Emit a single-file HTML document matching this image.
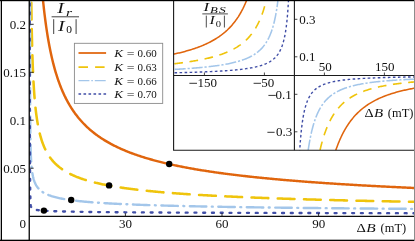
<!DOCTYPE html><html><head><meta charset="utf-8"><style>html,body{margin:0;padding:0;background:#fff}svg{display:block}text{font-family:"Liberation Serif",serif;fill:#111}svg{will-change:transform}</style></head><body>
<svg width="415" height="241" viewBox="0 0 415 241">
<defs><clipPath id="cm"><rect x="29.25" y="0" width="400" height="216.40"/></clipPath><clipPath id="ci"><rect x="173.5" y="0" width="241.5" height="150.2"/></clipPath></defs>
<rect width="415" height="241" fill="#fff"/>
<g clip-path="url(#cm)" fill="none" stroke-linejoin="round">
<path d="M42.89 -0.95 L42.99 0.08 L43.09 1.10 L43.20 2.12 L43.30 3.12 L43.41 4.12 L43.52 5.12 L43.63 6.17 L43.74 7.21 L43.86 8.25 L43.98 9.28 L44.09 10.30 L44.21 11.32 L44.33 12.33 L44.45 13.33 L44.57 14.33 L44.70 15.37 L44.82 16.42 L44.95 17.45 L45.09 18.47 L45.22 19.49 L45.35 20.51 L45.48 21.51 L45.62 22.51 L45.75 23.50 L45.90 24.54 L46.04 25.57 L46.19 26.60 L46.33 27.62 L46.48 28.63 L46.63 29.63 L46.78 30.62 L46.93 31.61 L47.09 32.65 L47.25 33.67 L47.42 34.69 L47.58 35.70 L47.74 36.70 L47.91 37.70 L48.08 38.69 L48.26 39.72 L48.43 40.74 L48.61 41.75 L48.80 42.76 L48.98 43.76 L49.16 44.75 L49.35 45.73 L49.54 46.75 L49.74 47.77 L49.94 48.77 L50.14 49.77 L50.34 50.76 L50.55 51.74 L50.76 52.76 L50.98 53.77 L51.20 54.77 L51.42 55.77 L51.64 56.75 L51.86 57.73 L52.10 58.74 L52.34 59.74 L52.58 60.74 L52.82 61.72 L53.06 62.70 L53.31 63.67 L53.57 64.67 L53.83 65.67 L54.09 66.65 L54.36 67.63 L54.62 68.59 L54.90 69.59 L55.19 70.58 L55.47 71.56 L55.76 72.53 L56.05 73.49 L56.36 74.48 L56.66 75.46 L56.97 76.43 L57.29 77.39 L57.60 78.34 L57.93 79.32 L58.27 80.30 L58.61 81.26 L58.95 82.21 L59.29 83.15 L59.65 84.12 L60.01 85.08 L60.38 86.03 L60.75 86.97 L61.12 87.90 L61.51 88.85 L61.91 89.80 L62.31 90.73 L62.71 91.66 L63.11 92.58 L63.54 93.52 L63.97 94.44 L64.40 95.36 L64.83 96.27 L65.28 97.17 L65.74 98.10 L66.20 99.01 L66.67 99.91 L67.14 100.80 L67.62 101.68 L68.12 102.59 L68.63 103.48 L69.14 104.36 L69.65 105.24 L70.17 106.10 L70.70 106.96 L71.23 107.80 L71.78 108.67 L72.34 109.52 L72.91 110.37 L73.48 111.20 L74.06 112.03 L74.64 112.85 L75.23 113.66 L75.85 114.49 L76.47 115.31 L77.09 116.11 L77.73 116.91 L78.37 117.70 L79.01 118.49 L79.67 119.26 L80.33 120.03 L81.00 120.79 L81.67 121.54 L82.35 122.28 L83.04 123.01 L83.74 123.74 L84.44 124.46 L85.15 125.17 L85.87 125.88 L86.60 126.58 L87.33 127.27 L88.07 127.95 L88.82 128.63 L89.58 129.30 L90.34 129.96 L91.11 130.62 L91.89 131.27 L92.68 131.91 L93.47 132.55 L94.28 133.18 L95.09 133.80 L95.91 134.42 L96.74 135.03 L97.55 135.62 L98.37 136.20 L99.20 136.78 L100.03 137.35 L100.88 137.91 L101.73 138.48 L102.59 139.03 L103.46 139.58 L104.31 140.11 L105.17 140.63 L106.04 141.15 L106.91 141.67 L107.79 142.18 L108.68 142.68 L109.58 143.18 L110.46 143.67 L111.35 144.14 L112.24 144.61 L113.15 145.08 L114.06 145.55 L114.98 146.01 L115.87 146.45 L116.78 146.89 L117.69 147.33 L118.61 147.76 L119.54 148.19 L120.48 148.61 L121.42 149.03 L122.34 149.43 L123.27 149.84 L124.20 150.23 L125.15 150.63 L126.10 151.02 L127.05 151.41 L127.99 151.78 L128.93 152.15 L129.88 152.52 L130.83 152.88 L131.79 153.24 L132.76 153.60 L133.71 153.94 L134.66 154.28 L135.61 154.62 L136.58 154.96 L137.55 155.29 L138.53 155.62 L139.48 155.94 L140.43 156.25 L141.39 156.57 L142.36 156.88 L143.34 157.19 L144.32 157.49 L145.31 157.80 L146.27 158.09 L147.24 158.38 L148.21 158.66 L149.19 158.95 L150.18 159.23 L151.17 159.51 L152.17 159.79 L153.13 160.06 L154.11 160.33 L155.08 160.59 L156.07 160.85 L157.06 161.11 L158.06 161.37 L159.06 161.63 L160.07 161.89 L161.05 162.13 L162.03 162.37 L163.01 162.61 L164.01 162.85 L165.00 163.09 L166.01 163.33 L167.02 163.56 L168.04 163.80 L169.02 164.02 L170.00 164.24 L170.99 164.46 L171.99 164.68 L172.99 164.90 L174.00 165.12 L175.01 165.33 L176.03 165.55 L177.01 165.75 L178.00 165.95 L178.99 166.16 L179.98 166.36 L180.98 166.56 L181.99 166.76 L183.00 166.95 L184.02 167.15 L185.04 167.35 L186.07 167.54 L187.06 167.72 L188.05 167.91 L189.05 168.09 L190.05 168.27 L191.05 168.45 L192.07 168.63 L193.08 168.81 L194.10 168.99 L195.13 169.17 L196.16 169.35 L197.15 169.51 L198.14 169.68 L199.14 169.84 L200.14 170.01 L201.15 170.17 L202.16 170.34 L203.18 170.50 L204.20 170.66 L205.22 170.82 L206.25 170.98 L207.29 171.14 L208.33 171.30 L209.32 171.45 L210.32 171.60 L211.32 171.75 L212.32 171.90 L213.33 172.05 L214.35 172.19 L215.37 172.34 L216.39 172.48 L217.42 172.63 L218.45 172.77 L219.49 172.92 L220.53 173.06 L221.52 173.20 L222.52 173.33 L223.52 173.46 L224.52 173.60 L225.53 173.73 L226.54 173.86 L227.56 173.99 L228.58 174.12 L229.60 174.26 L230.63 174.39 L231.67 174.51 L232.70 174.64 L233.75 174.77 L234.79 174.90 L235.84 175.03 L236.84 175.15 L237.84 175.27 L238.84 175.39 L239.85 175.50 L240.86 175.62 L241.87 175.74 L242.89 175.86 L243.92 175.97 L244.94 176.09 L245.97 176.21 L247.01 176.32 L248.05 176.44 L249.09 176.55 L250.14 176.66 L251.19 176.78 L252.24 176.89 L253.24 177.00 L254.24 177.10 L255.24 177.21 L256.25 177.31 L257.26 177.42 L258.27 177.52 L259.29 177.63 L260.31 177.73 L261.34 177.83 L262.37 177.94 L263.40 178.04 L264.43 178.14 L265.47 178.24 L266.52 178.34 L267.56 178.44 L268.62 178.54 L269.67 178.64 L270.73 178.74 L271.79 178.84 L272.79 178.94 L273.79 179.03 L274.80 179.12 L275.81 179.21 L276.82 179.31 L277.83 179.40 L278.85 179.49 L279.87 179.58 L280.90 179.67 L281.93 179.76 L282.96 179.85 L284.00 179.94 L285.04 180.03 L286.08 180.12 L287.12 180.21 L288.17 180.30 L289.23 180.38 L290.28 180.47 L291.34 180.56 L292.41 180.65 L293.47 180.73 L294.47 180.82 L295.47 180.90 L296.48 180.98 L297.48 181.06 L298.50 181.14 L299.51 181.22 L300.53 181.30 L301.55 181.38 L302.57 181.45 L303.59 181.53 L304.62 181.61 L305.66 181.69 L306.69 181.77 L307.73 181.85 L308.77 181.92 L309.82 182.00 L310.86 182.08 L311.91 182.16 L312.97 182.23 L314.02 182.31 L315.09 182.39 L316.15 182.46 L317.22 182.54 L318.29 182.61 L319.36 182.69 L320.36 182.76 L321.36 182.83 L322.36 182.90 L323.37 182.97 L324.38 183.04 L325.39 183.10 L326.41 183.17 L327.43 183.24 L328.45 183.31 L329.47 183.38 L330.50 183.45 L331.53 183.51 L332.56 183.58 L333.60 183.65 L334.64 183.72 L335.68 183.78 L336.72 183.85 L337.77 183.92 L338.82 183.98 L339.87 184.05 L340.93 184.12 L341.99 184.18 L343.05 184.25 L344.11 184.31 L345.18 184.38 L346.25 184.44 L347.32 184.51 L348.40 184.57 L349.48 184.64 L350.56 184.70 L351.56 184.76 L352.56 184.82 L353.57 184.88 L354.58 184.94 L355.59 185.00 L356.60 185.06 L357.62 185.12 L358.63 185.17 L359.66 185.23 L360.68 185.29 L361.70 185.35 L362.73 185.41 L363.76 185.46 L364.80 185.52 L365.83 185.58 L366.87 185.64 L367.91 185.69 L368.96 185.75 L370.01 185.81 L371.05 185.86 L372.11 185.92 L373.16 185.98 L374.22 186.03 L375.28 186.09 L376.34 186.14 L377.40 186.20 L378.47 186.26 L379.54 186.31 L380.61 186.37 L381.69 186.42 L382.77 186.48 L383.85 186.53 L384.93 186.59 L386.02 186.64 L387.11 186.70 L388.11 186.75 L389.11 186.80 L390.11 186.85 L391.12 186.89 L392.13 186.94 L393.14 186.99 L394.15 187.04 L395.17 187.09 L396.19 187.14 L397.21 187.19 L398.23 187.24 L399.25 187.29 L400.28 187.34 L401.31 187.38 L402.34 187.43 L403.38 187.48 L404.41 187.53 L405.45 187.58 L406.49 187.63 L407.54 187.67 L408.58 187.72 L409.63 187.77 L410.68 187.82 L411.73 187.86 L412.79 187.91 L413.84 187.96 L414.90 188.01 L415.97 188.05 L415.97 188.05" stroke="#E0650D" stroke-width="2.45"/>
<path d="M31.27 -0.96 L31.28 0.08 L31.30 1.12 L31.31 2.15 L31.32 3.18 L31.34 4.19 L31.35 5.20 L31.36 6.21 L31.38 7.28 L31.39 8.35 L31.41 9.40 L31.42 10.45 L31.44 11.50 L31.46 12.53 L31.47 13.56 L31.49 14.58 L31.50 15.59 L31.52 16.60 L31.54 17.67 L31.55 18.73 L31.57 19.78 L31.59 20.83 L31.61 21.86 L31.63 22.89 L31.64 23.91 L31.66 24.93 L31.68 25.93 L31.70 27.00 L31.72 28.06 L31.74 29.11 L31.76 30.15 L31.78 31.18 L31.80 32.20 L31.82 33.22 L31.85 34.23 L31.87 35.23 L31.89 36.28 L31.91 37.32 L31.94 38.36 L31.96 39.39 L31.99 40.41 L32.01 41.42 L32.03 42.42 L32.06 43.48 L32.09 44.52 L32.11 45.56 L32.14 46.58 L32.17 47.60 L32.20 48.61 L32.22 49.61 L32.25 50.66 L32.28 51.70 L32.31 52.72 L32.35 53.74 L32.38 54.75 L32.41 55.75 L32.44 56.80 L32.48 57.83 L32.51 58.86 L32.54 59.87 L32.58 60.88 L32.62 61.93 L32.65 62.97 L32.69 63.99 L32.73 65.01 L32.77 66.02 L32.81 67.06 L32.85 68.10 L32.89 69.12 L32.94 70.14 L32.98 71.14 L33.03 72.18 L33.07 73.21 L33.12 74.23 L33.17 75.24 L33.21 76.24 L33.26 77.27 L33.32 78.29 L33.37 79.30 L33.42 80.30 L33.47 81.33 L33.53 82.35 L33.59 83.36 L33.65 84.40 L33.71 85.43 L33.77 86.44 L33.83 87.44 L33.90 88.47 L33.96 89.49 L34.03 90.50 L34.10 91.53 L34.17 92.55 L34.25 93.56 L34.32 94.59 L34.40 95.62 L34.48 96.62 L34.56 97.65 L34.65 98.67 L34.73 99.68 L34.82 100.70 L34.91 101.72 L35.00 102.72 L35.10 103.74 L35.20 104.74 L35.30 105.77 L35.40 106.78 L35.51 107.78 L35.62 108.79 L35.73 109.80 L35.85 110.81 L35.97 111.82 L36.09 112.84 L36.22 113.84 L36.35 114.86 L36.49 115.86 L36.63 116.88 L36.77 117.88 L36.92 118.89 L37.07 119.89 L37.23 120.90 L37.39 121.90 L37.56 122.90 L37.73 123.89 L37.91 124.88 L38.10 125.89 L38.29 126.88 L38.49 127.88 L38.69 128.86 L38.90 129.85 L39.12 130.84 L39.35 131.82 L39.58 132.80 L39.82 133.78 L40.07 134.75 L40.33 135.73 L40.60 136.70 L40.88 137.68 L41.17 138.64 L41.47 139.61 L41.78 140.57 L42.10 141.54 L42.43 142.48 L42.77 143.43 L43.13 144.38 L43.50 145.32 L43.89 146.25 L44.28 147.18 L44.69 148.11 L45.12 149.01 L45.55 149.92 L46.01 150.82 L46.48 151.71 L46.96 152.59 L47.47 153.47 L47.99 154.34 L48.53 155.20 L49.08 156.04 L49.64 156.86 L50.23 157.69 L50.83 158.49 L51.44 159.29 L52.08 160.07 L52.74 160.85 L53.40 161.60 L54.09 162.34 L54.79 163.07 L55.51 163.79 L56.24 164.49 L56.98 165.17 L57.74 165.83 L58.51 166.48 L59.29 167.12 L60.08 167.74 L60.89 168.34 L61.71 168.93 L62.54 169.51 L63.38 170.07 L64.23 170.62 L65.09 171.15 L65.95 171.67 L66.82 172.17 L67.70 172.67 L68.59 173.15 L69.49 173.62 L70.39 174.07 L71.30 174.51 L72.21 174.94 L73.13 175.36 L74.05 175.77 L74.98 176.17 L75.91 176.56 L76.84 176.94 L77.78 177.30 L78.73 177.67 L79.68 178.02 L80.63 178.36 L81.58 178.70 L82.54 179.02 L83.50 179.34 L84.47 179.65 L85.42 179.95 L86.39 180.25 L87.35 180.54 L88.32 180.82 L89.29 181.10 L90.26 181.37 L91.23 181.63 L92.21 181.89 L93.18 182.15 L94.16 182.39 L95.14 182.64 L96.12 182.87 L97.11 183.11 L98.10 183.34 L99.09 183.56 L100.07 183.78 L101.07 184.00 L102.04 184.21 L103.03 184.42 L104.03 184.62 L105.02 184.82 L106.01 185.02 L107.02 185.21 L108.01 185.40 L109.01 185.58 L110.02 185.77 L111.01 185.95 L112.01 186.12 L113.02 186.30 L114.02 186.47 L115.02 186.64 L116.03 186.80 L117.03 186.96 L118.03 187.12 L119.04 187.28 L120.03 187.43 L121.03 187.58 L122.04 187.73 L123.05 187.88 L124.05 188.02 L125.05 188.17 L126.06 188.31 L127.08 188.45 L128.08 188.58 L129.09 188.72 L130.10 188.85 L131.12 188.98 L132.12 189.11 L133.12 189.23 L134.13 189.36 L135.15 189.48 L136.15 189.60 L137.15 189.72 L138.16 189.84 L139.17 189.96 L140.20 190.07 L141.19 190.19 L142.20 190.30 L143.21 190.41 L144.22 190.52 L145.25 190.63 L146.24 190.73 L147.25 190.84 L148.25 190.94 L149.27 191.04 L150.29 191.14 L151.32 191.25 L152.32 191.34 L153.33 191.44 L154.34 191.54 L155.36 191.63 L156.38 191.73 L157.41 191.82 L158.41 191.91 L159.41 192.00 L160.42 192.09 L161.44 192.18 L162.47 192.27 L163.49 192.36 L164.53 192.45 L165.53 192.53 L166.54 192.62 L167.55 192.70 L168.57 192.78 L169.59 192.86 L170.62 192.94 L171.66 193.03 L172.66 193.10 L173.67 193.18 L174.68 193.26 L175.69 193.33 L176.71 193.41 L177.74 193.49 L178.77 193.56 L179.81 193.64 L180.81 193.71 L181.82 193.78 L182.83 193.85 L183.84 193.92 L184.86 193.99 L185.89 194.06 L186.92 194.13 L187.96 194.20 L189.00 194.27 L190.00 194.34 L191.01 194.40 L192.02 194.47 L193.03 194.53 L194.05 194.60 L195.08 194.66 L196.11 194.72 L197.15 194.79 L198.19 194.85 L199.23 194.91 L200.24 194.97 L201.24 195.03 L202.25 195.09 L203.27 195.15 L204.29 195.21 L205.31 195.27 L206.34 195.33 L207.38 195.39 L208.42 195.45 L209.46 195.50 L210.51 195.56 L211.51 195.62 L212.52 195.67 L213.53 195.72 L214.54 195.78 L215.56 195.83 L216.59 195.89 L217.62 195.94 L218.65 195.99 L219.69 196.04 L220.73 196.10 L221.78 196.15 L222.83 196.20 L223.83 196.25 L224.83 196.30 L225.84 196.35 L226.85 196.40 L227.87 196.45 L228.89 196.50 L229.91 196.54 L230.94 196.59 L231.98 196.64 L233.01 196.69 L234.06 196.74 L235.10 196.78 L236.15 196.83 L237.21 196.88 L238.21 196.92 L239.21 196.97 L240.22 197.01 L241.23 197.06 L242.25 197.10 L243.27 197.14 L244.29 197.19 L245.32 197.23 L246.35 197.27 L247.39 197.32 L248.43 197.36 L249.47 197.40 L250.52 197.45 L251.57 197.49 L252.62 197.53 L253.68 197.57 L254.68 197.61 L255.69 197.65 L256.70 197.69 L257.71 197.73 L258.72 197.77 L259.74 197.81 L260.76 197.85 L261.79 197.89 L262.82 197.93 L263.85 197.97 L264.89 198.00 L265.93 198.04 L266.98 198.08 L268.02 198.12 L269.07 198.16 L270.13 198.20 L271.19 198.23 L272.25 198.27 L273.25 198.31 L274.26 198.34 L275.26 198.38 L276.27 198.41 L277.28 198.45 L278.30 198.48 L279.32 198.52 L280.34 198.55 L281.37 198.59 L282.40 198.62 L283.43 198.66 L284.47 198.69 L285.51 198.72 L286.55 198.76 L287.60 198.79 L288.65 198.83 L289.70 198.86 L290.76 198.89 L291.82 198.93 L292.89 198.96 L293.95 198.99 L295.02 199.03 L296.03 199.06 L297.03 199.09 L298.04 199.12 L299.05 199.15 L300.07 199.18 L301.09 199.21 L302.11 199.24 L303.13 199.27 L304.16 199.30 L305.19 199.33 L306.22 199.36 L307.26 199.40 L308.30 199.43 L309.34 199.46 L310.39 199.49 L311.43 199.52 L312.49 199.54 L313.54 199.57 L314.60 199.60 L315.66 199.63 L316.73 199.66 L317.79 199.69 L318.86 199.72 L319.94 199.75 L320.94 199.78 L321.94 199.81 L322.95 199.83 L323.96 199.86 L324.97 199.89 L325.98 199.91 L327.00 199.94 L328.02 199.97 L329.04 199.99 L330.07 200.02 L331.09 200.05 L332.12 200.07 L333.16 200.10 L334.19 200.13 L335.23 200.15 L336.28 200.18 L337.32 200.20 L338.37 200.23 L339.42 200.26 L340.47 200.28 L341.53 200.31 L342.59 200.33 L343.65 200.36 L344.72 200.39 L345.79 200.41 L346.86 200.44 L347.93 200.46 L349.01 200.49 L350.09 200.51 L351.17 200.54 L352.17 200.56 L353.18 200.59 L354.18 200.61 L355.19 200.63 L356.20 200.66 L357.22 200.68 L358.24 200.70 L359.25 200.73 L360.28 200.75 L361.30 200.77 L362.33 200.79 L363.36 200.82 L364.39 200.84 L365.43 200.86 L366.46 200.89 L367.50 200.91 L368.55 200.93 L369.59 200.95 L370.64 200.98 L371.69 201.00 L372.74 201.02 L373.80 201.04 L374.85 201.07 L375.91 201.09 L376.98 201.11 L378.04 201.13 L379.11 201.15 L380.18 201.18 L381.26 201.20 L382.33 201.22 L383.41 201.24 L384.49 201.26 L385.58 201.29 L386.66 201.31 L387.75 201.33 L388.76 201.35 L389.76 201.37 L390.76 201.39 L391.77 201.41 L392.78 201.43 L393.79 201.45 L394.81 201.47 L395.83 201.49 L396.85 201.51 L397.87 201.53 L398.89 201.55 L399.92 201.57 L400.94 201.59 L401.97 201.61 L403.01 201.63 L404.04 201.65 L405.08 201.66 L406.12 201.68 L407.16 201.70 L408.21 201.72 L409.25 201.74 L410.30 201.76 L411.35 201.78 L412.41 201.80 L413.46 201.82 L414.52 201.84 L415.58 201.86 L415.97 201.86" stroke="#EFC40C" stroke-width="2.55" stroke-linecap="round" stroke-dasharray="16.75 9.50" stroke-dashoffset="22.5"/>
<path d="M30.02 -0.95 L30.02 0.10 L30.02 1.15 L30.02 2.19 L30.02 3.22 L30.02 4.25 L30.02 5.26 L30.02 6.27 L30.02 7.27 L30.02 8.39 L30.02 9.49 L30.03 10.59 L30.03 11.68 L30.03 12.76 L30.03 13.83 L30.03 14.89 L30.03 15.94 L30.03 16.99 L30.03 18.02 L30.03 19.05 L30.03 20.07 L30.03 21.08 L30.03 22.08 L30.03 23.19 L30.03 24.28 L30.03 25.36 L30.03 26.44 L30.03 27.50 L30.03 28.56 L30.03 29.61 L30.03 30.64 L30.03 31.67 L30.03 32.69 L30.04 33.70 L30.04 34.70 L30.04 35.79 L30.04 36.87 L30.04 37.94 L30.04 39.01 L30.04 40.06 L30.04 41.10 L30.04 42.13 L30.04 43.15 L30.04 44.16 L30.04 45.17 L30.04 46.25 L30.04 47.32 L30.05 48.38 L30.05 49.44 L30.05 50.48 L30.05 51.51 L30.05 52.53 L30.05 53.54 L30.05 54.54 L30.05 55.61 L30.05 56.68 L30.05 57.73 L30.05 58.77 L30.06 59.80 L30.06 60.82 L30.06 61.83 L30.06 62.90 L30.06 63.96 L30.06 65.01 L30.06 66.05 L30.06 67.08 L30.07 68.10 L30.07 69.11 L30.07 70.17 L30.07 71.23 L30.07 72.27 L30.07 73.30 L30.07 74.32 L30.08 75.33 L30.08 76.39 L30.08 77.44 L30.08 78.47 L30.08 79.50 L30.08 80.51 L30.09 81.51 L30.09 82.56 L30.09 83.60 L30.09 84.63 L30.09 85.64 L30.10 86.64 L30.10 87.69 L30.10 88.72 L30.10 89.74 L30.11 90.75 L30.11 91.80 L30.11 92.83 L30.11 93.85 L30.12 94.86 L30.12 95.91 L30.12 96.94 L30.13 97.96 L30.13 98.97 L30.13 100.01 L30.14 101.04 L30.14 102.05 L30.14 103.09 L30.15 104.12 L30.15 105.14 L30.15 106.14 L30.16 107.17 L30.16 108.19 L30.17 109.19 L30.17 110.22 L30.18 111.24 L30.18 112.28 L30.19 113.30 L30.19 114.31 L30.20 115.34 L30.20 116.36 L30.21 117.39 L30.22 118.41 L30.22 119.42 L30.23 120.44 L30.24 121.45 L30.25 122.47 L30.25 123.48 L30.26 124.51 L30.27 125.52 L30.28 126.54 L30.29 127.54 L30.30 128.56 L30.31 129.56 L30.32 130.57 L30.33 131.60 L30.34 132.60 L30.36 133.62 L30.37 134.64 L30.38 135.64 L30.40 136.65 L30.41 137.67 L30.43 138.70 L30.44 139.70 L30.46 140.70 L30.48 141.72 L30.50 142.73 L30.52 143.74 L30.54 144.76 L30.57 145.78 L30.59 146.79 L30.62 147.80 L30.64 148.82 L30.67 149.82 L30.70 150.83 L30.74 151.83 L30.77 152.84 L30.81 153.85 L30.85 154.85 L30.89 155.86 L30.93 156.86 L30.98 157.87 L31.03 158.88 L31.08 159.89 L31.14 160.89 L31.21 161.90 L31.27 162.91 L31.35 163.91 L31.42 164.91 L31.51 165.91 L31.60 166.92 L31.70 167.92 L31.80 168.93 L31.92 169.92 L32.04 170.92 L32.18 171.91 L32.33 172.90 L32.49 173.89 L32.67 174.88 L32.86 175.86 L33.07 176.85 L33.31 177.83 L33.56 178.80 L33.84 179.77 L34.15 180.73 L34.49 181.67 L34.86 182.60 L35.27 183.52 L35.71 184.42 L36.20 185.29 L36.72 186.15 L37.29 186.98 L37.89 187.77 L38.54 188.54 L39.23 189.27 L39.96 189.96 L40.71 190.62 L41.50 191.24 L42.32 191.83 L43.16 192.38 L44.03 192.89 L44.91 193.38 L45.80 193.83 L46.71 194.26 L47.63 194.67 L48.56 195.05 L49.50 195.40 L50.45 195.74 L51.40 196.07 L52.37 196.37 L53.33 196.66 L54.30 196.93 L55.27 197.19 L56.24 197.44 L57.22 197.68 L58.20 197.90 L59.17 198.12 L60.15 198.32 L61.15 198.52 L62.14 198.71 L63.13 198.90 L64.12 199.07 L65.11 199.24 L66.10 199.41 L67.10 199.56 L68.09 199.72 L69.09 199.86 L70.09 200.01 L71.09 200.14 L72.08 200.28 L73.07 200.40 L74.07 200.53 L75.07 200.65 L76.06 200.77 L77.06 200.88 L78.05 200.99 L79.06 201.10 L80.07 201.21 L81.08 201.31 L82.09 201.41 L83.09 201.51 L84.10 201.61 L85.11 201.70 L86.12 201.79 L87.11 201.88 L88.13 201.97 L89.13 202.05 L90.13 202.14 L91.14 202.22 L92.14 202.30 L93.16 202.37 L94.16 202.45 L95.18 202.53 L96.19 202.60 L97.21 202.67 L98.22 202.74 L99.24 202.81 L100.24 202.88 L101.26 202.94 L102.27 203.01 L103.29 203.07 L104.29 203.14 L105.30 203.20 L106.30 203.26 L107.31 203.32 L108.33 203.37 L109.33 203.43 L110.35 203.49 L111.37 203.54 L112.37 203.60 L113.39 203.65 L114.42 203.70 L115.42 203.76 L116.44 203.81 L117.47 203.86 L118.47 203.91 L119.49 203.96 L120.51 204.01 L121.52 204.05 L122.53 204.10 L123.55 204.15 L124.58 204.19 L125.59 204.24 L126.60 204.28 L127.63 204.32 L128.63 204.37 L129.64 204.41 L130.66 204.45 L131.68 204.49 L132.68 204.53 L133.69 204.57 L134.71 204.61 L135.73 204.65 L136.77 204.69 L137.77 204.73 L138.79 204.76 L139.81 204.80 L140.83 204.84 L141.84 204.87 L142.84 204.91 L143.86 204.95 L144.88 204.98 L145.91 205.02 L146.91 205.05 L147.92 205.08 L148.93 205.12 L149.95 205.15 L150.98 205.18 L152.01 205.21 L153.01 205.25 L154.02 205.28 L155.04 205.31 L156.06 205.34 L157.09 205.37 L158.13 205.40 L159.13 205.43 L160.14 205.46 L161.16 205.49 L162.18 205.52 L163.20 205.55 L164.24 205.58 L165.28 205.60 L166.28 205.63 L167.30 205.66 L168.31 205.69 L169.34 205.71 L170.36 205.74 L171.40 205.77 L172.44 205.79 L173.45 205.82 L174.45 205.85 L175.47 205.87 L176.49 205.90 L177.52 205.92 L178.55 205.95 L179.59 205.97 L180.63 206.00 L181.63 206.02 L182.64 206.04 L183.66 206.07 L184.68 206.09 L185.70 206.11 L186.73 206.14 L187.77 206.16 L188.81 206.18 L189.86 206.21 L190.86 206.23 L191.87 206.25 L192.89 206.27 L193.91 206.29 L194.93 206.32 L195.96 206.34 L197.00 206.36 L198.04 206.38 L199.08 206.40 L200.08 206.42 L201.09 206.44 L202.10 206.46 L203.11 206.48 L204.13 206.50 L205.16 206.52 L206.19 206.54 L207.22 206.56 L208.26 206.58 L209.30 206.60 L210.35 206.62 L211.35 206.64 L212.36 206.66 L213.37 206.68 L214.38 206.69 L215.40 206.71 L216.42 206.73 L217.45 206.75 L218.48 206.77 L219.52 206.79 L220.56 206.80 L221.61 206.82 L222.66 206.84 L223.71 206.86 L224.72 206.88 L225.73 206.89 L226.74 206.91 L227.75 206.93 L228.77 206.94 L229.80 206.96 L230.83 206.98 L231.86 206.99 L232.90 207.01 L233.94 207.03 L234.99 207.04 L236.04 207.06 L237.09 207.07 L238.15 207.09 L239.15 207.11 L240.16 207.12 L241.17 207.14 L242.19 207.15 L243.21 207.17 L244.23 207.18 L245.26 207.20 L246.29 207.21 L247.33 207.23 L248.36 207.24 L249.41 207.26 L250.45 207.27 L251.51 207.29 L252.56 207.30 L253.62 207.32 L254.62 207.33 L255.62 207.35 L256.63 207.36 L257.64 207.37 L258.66 207.39 L259.68 207.40 L260.70 207.41 L261.73 207.43 L262.75 207.44 L263.79 207.46 L264.82 207.47 L265.86 207.48 L266.91 207.50 L267.96 207.51 L269.01 207.52 L270.06 207.54 L271.12 207.55 L272.19 207.56 L273.25 207.58 L274.25 207.59 L275.26 207.60 L276.27 207.61 L277.28 207.63 L278.30 207.64 L279.32 207.65 L280.34 207.66 L281.37 207.68 L282.40 207.69 L283.43 207.70 L284.47 207.71 L285.51 207.73 L286.55 207.74 L287.60 207.75 L288.65 207.76 L289.70 207.77 L290.76 207.79 L291.82 207.80 L292.89 207.81 L293.95 207.82 L295.02 207.83 L296.03 207.84 L297.03 207.86 L298.04 207.87 L299.05 207.88 L300.07 207.89 L301.09 207.90 L302.11 207.91 L303.13 207.92 L304.16 207.93 L305.19 207.94 L306.22 207.95 L307.26 207.97 L308.30 207.98 L309.34 207.99 L310.38 208.00 L311.43 208.01 L312.49 208.02 L313.54 208.03 L314.60 208.04 L315.66 208.05 L316.72 208.06 L317.79 208.07 L318.86 208.08 L319.94 208.09 L320.94 208.10 L321.94 208.11 L322.95 208.12 L323.96 208.13 L324.97 208.14 L325.98 208.15 L327.00 208.16 L328.02 208.17 L329.04 208.18 L330.07 208.19 L331.09 208.20 L332.12 208.21 L333.16 208.22 L334.19 208.23 L335.23 208.24 L336.28 208.25 L337.32 208.26 L338.37 208.27 L339.42 208.28 L340.47 208.29 L341.53 208.30 L342.59 208.31 L343.65 208.32 L344.72 208.33 L345.79 208.34 L346.86 208.34 L347.93 208.35 L349.01 208.36 L350.09 208.37 L351.17 208.38 L352.17 208.39 L353.18 208.40 L354.18 208.41 L355.19 208.42 L356.20 208.42 L357.22 208.43 L358.24 208.44 L359.25 208.45 L360.28 208.46 L361.30 208.47 L362.33 208.48 L363.36 208.48 L364.39 208.49 L365.43 208.50 L366.46 208.51 L367.50 208.52 L368.54 208.53 L369.59 208.53 L370.64 208.54 L371.69 208.55 L372.74 208.56 L373.80 208.57 L374.85 208.58 L375.91 208.58 L376.98 208.59 L378.04 208.60 L379.11 208.61 L380.18 208.62 L381.26 208.63 L382.33 208.63 L383.41 208.64 L384.49 208.65 L385.58 208.66 L386.66 208.67 L387.75 208.67 L388.76 208.68 L389.76 208.69 L390.76 208.70 L391.77 208.70 L392.78 208.71 L393.79 208.72 L394.81 208.73 L395.83 208.73 L396.85 208.74 L397.87 208.75 L398.89 208.76 L399.92 208.76 L400.94 208.77 L401.97 208.78 L403.01 208.78 L404.04 208.79 L405.08 208.80 L406.12 208.81 L407.16 208.81 L408.21 208.82 L409.25 208.83 L410.30 208.84 L411.35 208.84 L412.41 208.85 L413.46 208.86 L414.52 208.86 L415.58 208.87 L415.97 208.87" stroke="#A3C6EA" stroke-width="2.4" stroke-linecap="round" stroke-dasharray="16.50 5.50 0.90 5.58" stroke-dashoffset="25.09"/>
<path d="M29.74 -0.73 L29.74 0.84 L29.74 2.40 L29.74 3.95 L29.74 5.48 L29.74 7.00 L29.74 8.51 L29.74 10.01 L29.74 11.49 L29.75 12.97 L29.75 14.43 L29.75 15.88 L29.75 17.32 L29.75 18.74 L29.75 20.16 L29.75 21.57 L29.75 22.96 L29.75 24.34 L29.76 25.72 L29.76 27.08 L29.76 28.43 L29.76 29.77 L29.76 31.10 L29.76 32.42 L29.76 33.73 L29.76 35.03 L29.77 36.31 L29.77 37.59 L29.77 38.86 L29.77 40.12 L29.77 41.37 L29.77 42.61 L29.77 43.84 L29.77 45.06 L29.77 46.27 L29.78 47.47 L29.78 48.66 L29.78 49.84 L29.78 51.01 L29.78 52.18 L29.78 53.33 L29.78 54.48 L29.78 55.61 L29.78 56.74 L29.79 57.86 L29.79 58.97 L29.79 60.07 L29.79 61.16 L29.79 62.25 L29.79 63.32 L29.79 64.39 L29.79 65.45 L29.80 66.50 L29.80 67.54 L29.80 68.58 L29.80 69.61 L29.80 70.62 L29.80 71.64 L29.80 72.64 L29.80 74.13 L29.81 75.60 L29.81 77.06 L29.81 78.50 L29.81 79.92 L29.81 81.32 L29.82 82.71 L29.82 84.09 L29.82 85.45 L29.82 86.79 L29.82 88.11 L29.82 89.42 L29.83 90.72 L29.83 92.00 L29.83 93.27 L29.83 94.52 L29.83 95.76 L29.84 96.98 L29.84 98.19 L29.84 99.39 L29.84 100.57 L29.84 101.74 L29.85 102.89 L29.85 104.03 L29.85 105.16 L29.85 106.28 L29.85 107.38 L29.85 108.47 L29.86 109.55 L29.86 110.61 L29.86 111.67 L29.86 112.71 L29.86 113.74 L29.87 114.76 L29.87 115.76 L29.87 117.09 L29.87 118.39 L29.88 119.67 L29.88 120.94 L29.88 122.18 L29.88 123.41 L29.89 124.62 L29.89 125.81 L29.89 126.98 L29.89 128.14 L29.90 129.27 L29.90 130.39 L29.90 131.50 L29.91 132.58 L29.91 133.65 L29.91 134.71 L29.91 135.75 L29.92 136.77 L29.92 137.78 L29.92 139.02 L29.93 140.23 L29.93 141.43 L29.93 142.60 L29.94 143.75 L29.94 144.88 L29.94 145.98 L29.95 147.07 L29.95 148.14 L29.95 149.19 L29.96 150.21 L29.96 151.22 L29.96 152.41 L29.97 153.57 L29.97 154.70 L29.98 155.81 L29.98 156.90 L29.99 157.96 L29.99 159.00 L30.00 160.01 L30.00 161.17 L30.01 162.30 L30.01 163.40 L30.02 164.47 L30.02 165.51 L30.03 166.53 L30.03 167.66 L30.04 168.76 L30.04 169.83 L30.05 170.87 L30.06 171.87 L30.06 172.97 L30.07 174.04 L30.08 175.07 L30.09 176.17 L30.09 177.24 L30.10 178.27 L30.11 179.36 L30.12 180.41 L30.13 181.41 L30.14 182.47 L30.15 183.48 L30.16 184.53 L30.17 185.53 L30.18 186.56 L30.20 187.61 L30.21 188.67 L30.22 189.67 L30.24 190.67 L30.26 191.68 L30.27 192.72 L30.29 193.74 L30.31 194.78 L30.34 195.81 L30.36 196.84 L30.39 197.85 L30.43 198.85 L30.46 199.86 L30.51 200.87 L30.56 201.88 L30.62 202.89 L30.69 203.89 L30.79 204.89 L30.93 205.89 L31.15 206.87 L31.51 207.80 L32.16 208.56 L33.03 209.06 L33.98 209.39 L34.95 209.63 L35.94 209.82 L36.93 209.98 L37.92 210.12 L38.91 210.24 L39.91 210.35 L40.91 210.44 L41.90 210.53 L42.90 210.61 L43.90 210.68 L44.90 210.75 L45.91 210.81 L46.91 210.87 L47.92 210.92 L48.92 210.97 L49.93 211.02 L50.93 211.06 L51.93 211.11 L52.94 211.15 L53.94 211.19 L54.95 211.22 L55.95 211.26 L56.96 211.29 L57.97 211.32 L58.97 211.35 L59.99 211.38 L61.00 211.41 L62.01 211.44 L63.02 211.47 L64.02 211.49 L65.02 211.52 L66.03 211.54 L67.03 211.57 L68.04 211.59 L69.05 211.61 L70.05 211.63 L71.06 211.65 L72.07 211.67 L73.08 211.69 L74.09 211.71 L75.10 211.73 L76.11 211.75 L77.13 211.76 L78.14 211.78 L79.15 211.80 L80.15 211.82 L81.16 211.83 L82.18 211.85 L83.19 211.86 L84.20 211.88 L85.21 211.89 L86.23 211.91 L87.24 211.92 L88.24 211.93 L89.26 211.95 L90.27 211.96 L91.28 211.97 L92.29 211.99 L93.30 212.00 L94.32 212.01 L95.32 212.02 L96.34 212.04 L97.35 212.05 L98.37 212.06 L99.38 212.07 L100.40 212.08 L101.41 212.09 L102.43 212.10 L103.43 212.11 L104.44 212.12 L105.47 212.13 L106.48 212.14 L107.50 212.15 L108.50 212.16 L109.52 212.17 L110.54 212.18 L111.55 212.19 L112.56 212.20 L113.59 212.21 L114.60 212.22 L115.62 212.23 L116.64 212.24 L117.65 212.25 L118.67 212.25 L119.69 212.26 L120.70 212.27 L121.71 212.28 L122.73 212.29 L123.76 212.29 L124.77 212.30 L125.79 212.31 L126.82 212.32 L127.82 212.33 L128.83 212.33 L129.85 212.34 L130.87 212.35 L131.88 212.35 L132.89 212.36 L133.90 212.37 L134.93 212.38 L135.96 212.38 L136.97 212.39 L137.98 212.40 L139.00 212.40 L140.03 212.41 L141.04 212.42 L142.04 212.42 L143.06 212.43 L144.08 212.44 L145.11 212.44 L146.11 212.45 L147.12 212.45 L148.14 212.46 L149.16 212.47 L150.19 212.47 L151.22 212.48 L152.23 212.48 L153.24 212.49 L154.25 212.50 L155.28 212.50 L156.31 212.51 L157.34 212.51 L158.35 212.52 L159.36 212.52 L160.37 212.53 L161.40 212.53 L162.43 212.54 L163.46 212.54 L164.50 212.55 L165.51 212.55 L166.52 212.56 L167.54 212.56 L168.56 212.57 L169.59 212.58 L170.63 212.58 L171.67 212.59 L172.68 212.59 L173.69 212.59 L174.70 212.60 L175.72 212.60 L176.75 212.61 L177.79 212.61 L178.82 212.62 L179.87 212.62 L180.87 212.63 L181.88 212.63 L182.90 212.64 L183.92 212.64 L184.95 212.65 L185.98 212.65 L187.02 212.65 L188.06 212.66 L189.06 212.66 L190.06 212.67 L191.08 212.67 L192.09 212.68 L193.11 212.68 L194.14 212.68 L195.17 212.69 L196.20 212.69 L197.25 212.70 L198.29 212.70 L199.29 212.70 L200.30 212.71 L201.31 212.71 L202.33 212.72 L203.35 212.72 L204.37 212.72 L205.40 212.73 L206.44 212.73 L207.48 212.74 L208.52 212.74 L209.57 212.74 L210.57 212.75 L211.58 212.75 L212.59 212.75 L213.60 212.76 L214.62 212.76 L215.65 212.76 L216.68 212.77 L217.71 212.77 L218.75 212.78 L219.79 212.78 L220.84 212.78 L221.89 212.79 L222.89 212.79 L223.89 212.79 L224.90 212.80 L225.91 212.80 L226.93 212.80 L227.95 212.81 L228.98 212.81 L230.01 212.81 L231.04 212.82 L232.08 212.82 L233.12 212.82 L234.17 212.83 L235.22 212.83 L236.27 212.83 L237.27 212.84 L238.28 212.84 L239.29 212.84 L240.30 212.84 L241.31 212.85 L242.33 212.85 L243.36 212.85 L244.39 212.86 L245.42 212.86 L246.45 212.86 L247.49 212.87 L248.54 212.87 L249.58 212.87 L250.64 212.87 L251.69 212.88 L252.75 212.88 L253.75 212.88 L254.76 212.89 L255.76 212.89 L256.78 212.89 L257.79 212.89 L258.81 212.90 L259.83 212.90 L260.86 212.90 L261.89 212.91 L262.92 212.91 L263.96 212.91 L265.00 212.91 L266.05 212.92 L267.09 212.92 L268.15 212.92 L269.20 212.93 L270.26 212.93 L271.32 212.93 L272.32 212.93 L273.33 212.94 L274.34 212.94 L275.35 212.94 L276.36 212.94 L277.38 212.95 L278.40 212.95 L279.42 212.95 L280.45 212.95 L281.48 212.96 L282.51 212.96 L283.55 212.96 L284.59 212.96 L285.63 212.97 L286.68 212.97 L287.73 212.97 L288.78 212.97 L289.84 212.98 L290.90 212.98 L291.96 212.98 L293.03 212.98 L294.10 212.99 L295.11 212.99 L296.11 212.99 L297.12 212.99 L298.13 213.00 L299.15 213.00 L300.17 213.00 L301.19 213.00 L302.21 213.00 L303.24 213.01 L304.27 213.01 L305.30 213.01 L306.34 213.01 L307.38 213.02 L308.42 213.02 L309.47 213.02 L310.52 213.02 L311.57 213.03 L312.63 213.03 L313.68 213.03 L314.75 213.03 L315.81 213.03 L316.88 213.04 L317.95 213.04 L319.03 213.04 L320.03 213.04 L321.03 213.05 L322.04 213.05 L323.04 213.05 L324.06 213.05 L325.07 213.05 L326.09 213.06 L327.11 213.06 L328.13 213.06 L329.16 213.06 L330.18 213.06 L331.22 213.07 L332.25 213.07 L333.29 213.07 L334.33 213.07 L335.37 213.07 L336.41 213.08 L337.46 213.08 L338.51 213.08 L339.57 213.08 L340.63 213.08 L341.68 213.09 L342.75 213.09 L343.81 213.09 L344.88 213.09 L345.95 213.09 L347.03 213.10 L348.10 213.10 L349.18 213.10 L350.27 213.10 L351.27 213.10 L352.27 213.11 L353.28 213.11 L354.29 213.11 L355.30 213.11 L356.32 213.11 L357.34 213.11 L358.36 213.12 L359.38 213.12 L360.40 213.12 L361.43 213.12 L362.46 213.12 L363.49 213.13 L364.53 213.13 L365.57 213.13 L366.61 213.13 L367.65 213.13 L368.70 213.13 L369.74 213.14 L370.79 213.14 L371.85 213.14 L372.90 213.14 L373.96 213.14 L375.02 213.15 L376.09 213.15 L377.15 213.15 L378.22 213.15 L379.29 213.15 L380.37 213.15 L381.44 213.16 L382.52 213.16 L383.61 213.16 L384.69 213.16 L385.78 213.16 L386.87 213.17 L387.87 213.17 L388.87 213.17 L389.88 213.17 L390.89 213.17 L391.90 213.17 L392.91 213.18 L393.92 213.18 L394.94 213.18 L395.96 213.18 L396.98 213.18 L398.01 213.18 L399.03 213.18 L400.06 213.19 L401.09 213.19 L402.13 213.19 L403.16 213.19 L404.20 213.19 L405.24 213.19 L406.28 213.20 L407.33 213.20 L408.37 213.20 L409.42 213.20 L410.48 213.20 L411.53 213.20 L412.59 213.21 L413.64 213.21 L414.71 213.21 L415.77 213.21 L415.96 213.21" stroke="#404EA6" stroke-width="2.35" stroke-linecap="round" stroke-dasharray="1.95 6.81" stroke-dashoffset="4.42"/>
</g>
<g stroke="#0c0c0c" stroke-width="1.35" fill="none">
<path d="M29.25 0V241"/><path d="M29.25 216.4H415"/>
</g><g stroke="#1a1a1a" stroke-width="0.9" fill="none">
<path d="M125.4 216.4v-3.2"/>
<path d="M222.0 216.4v-3.2"/>
<path d="M318.6 216.4v-3.2"/>
<path d="M29.25 168.2h4.4"/>
<path d="M29.25 120.2h4.4"/>
<path d="M29.25 72.3h4.4"/>
<path d="M29.25 24.3h4.4"/>
</g>
<g font-size="13">
<text x="125.5" y="227.6" text-anchor="middle">30</text>
<text x="222.1" y="227.6" text-anchor="middle">60</text>
<text x="318.7" y="227.6" text-anchor="middle">90</text>
<text x="26" y="172.5" text-anchor="end">0.05</text>
<text x="26" y="124.5" text-anchor="end">0.1</text>
<text x="26" y="76.6" text-anchor="end">0.15</text>
<text x="26" y="28.6" text-anchor="end">0.2</text>
<text x="25.9" y="227.9" text-anchor="end">0</text>
</g>
<circle cx="169.2" cy="164.0" r="3.2" fill="#000"/>
<circle cx="109.1" cy="185.4" r="3.2" fill="#000"/>
<circle cx="71.2" cy="200.0" r="3.2" fill="#000"/>
<circle cx="43.9" cy="210.6" r="3.2" fill="#000"/>
<g>
<text transform="translate(57.2,13.3) scale(1.3,1)" font-size="15.2" font-style="italic">I</text><text transform="translate(66,15.9) scale(1.45,1)" font-size="10.8" font-style="italic">r</text>
<path d="M51.6 16.8H79" stroke="#111" stroke-width="0.8"/>
<path d="M53.7 19.2V34M76.1 19.2V34" stroke="#111" stroke-width="0.8"/>
<text transform="translate(57.9,30.7) scale(1.3,1)" font-size="15.2" font-style="italic">I</text><text transform="translate(66.2,33.2) scale(1.2,1)" font-size="9.6">0</text>
</g>
<text transform="translate(356.6,231.5) scale(1.16,1)" font-size="12.6">Δ</text><text transform="translate(366.20000000000005,231.5) scale(1.22,1)" font-size="12.6" font-style="italic">B</text><text x="380.6" y="231.5" font-size="12.6" textLength="25.6" lengthAdjust="spacingAndGlyphs">(mT)</text>
<rect x="74.4" y="43.3" width="88.3" height="60.1" fill="#fff" stroke="#8a8a8a" stroke-width="0.9"/>
<path d="M78.5 53H106.1" stroke="#E0650D" stroke-width="1.75" fill="none"/>
<text transform="translate(114.2,56.9) scale(1.18,1)" font-size="11" font-style="italic">K</text><text transform="translate(126.7,56.9) scale(1.25,1)" font-size="11">=</text><text x="137.6" y="56.9" font-size="11" textLength="19.2" lengthAdjust="spacingAndGlyphs">0.60</text>
<path d="M78.5 67H106.1" stroke="#EFC40C" stroke-width="1.75" fill="none" stroke-dasharray="9.5 7.1"/>
<text transform="translate(114.2,70.9) scale(1.18,1)" font-size="11" font-style="italic">K</text><text transform="translate(126.7,70.9) scale(1.25,1)" font-size="11">=</text><text x="137.6" y="70.9" font-size="11" textLength="19.2" lengthAdjust="spacingAndGlyphs">0.63</text>
<path d="M78.5 80.6H106.1" stroke="#A3C6EA" stroke-width="1.25" fill="none" stroke-dasharray="10.9 1.9 1.6 1.9"/>
<text transform="translate(114.2,84.5) scale(1.18,1)" font-size="11" font-style="italic">K</text><text transform="translate(126.7,84.5) scale(1.25,1)" font-size="11">=</text><text x="137.6" y="84.5" font-size="11" textLength="19.2" lengthAdjust="spacingAndGlyphs">0.66</text>
<path d="M78.5 94H106.1" stroke="#404EA6" stroke-width="1.5" fill="none" stroke-dasharray="2.6 2.4"/>
<text transform="translate(114.2,97.9) scale(1.18,1)" font-size="11" font-style="italic">K</text><text transform="translate(126.7,97.9) scale(1.25,1)" font-size="11">=</text><text x="137.6" y="97.9" font-size="11" textLength="19.2" lengthAdjust="spacingAndGlyphs">0.70</text>
<rect x="173.5" y="0" width="241.5" height="150.2" fill="#fff"/>
<g clip-path="url(#ci)" fill="none" stroke-linejoin="round">
<path d="M247.13 -0.98 L246.76 -0.03 L246.39 0.90 L246.00 1.84 L245.61 2.76 L245.21 3.70 L244.80 4.62 L244.38 5.55 L243.95 6.47 L243.52 7.37 L243.08 8.29 L242.62 9.18 L242.16 10.08 L241.69 10.97 L241.20 11.87 L240.71 12.75 L240.20 13.64 L239.68 14.51 L239.16 15.36 L238.62 16.22 L238.08 17.07 L237.51 17.92 L236.94 18.76 L236.37 19.58 L235.77 20.40 L235.17 21.21 L234.56 22.01 L233.93 22.81 L233.30 23.59 L232.66 24.36 L231.99 25.14 L231.32 25.90 L230.64 26.64 L229.95 27.37 L229.26 28.09 L228.54 28.81 L227.81 29.52 L227.08 30.22 L226.33 30.90 L225.58 31.57 L224.82 32.23 L224.05 32.87 L223.27 33.51 L222.49 34.13 L221.69 34.75 L220.88 35.35 L220.07 35.94 L219.24 36.52 L218.41 37.09 L217.57 37.65 L216.72 38.21 L215.85 38.75 L215.00 39.27 L214.14 39.78 L213.26 40.29 L212.38 40.78 L211.49 41.27 L210.61 41.74 L209.71 42.20 L208.81 42.66 L207.90 43.11 L206.98 43.55 L206.07 43.97 L205.15 44.39 L204.22 44.80 L203.30 45.20 L202.37 45.59 L201.43 45.97 L200.49 46.35 L199.55 46.71 L198.61 47.07 L197.65 47.42 L196.71 47.77 L195.76 48.10 L194.80 48.43 L193.84 48.76 L192.88 49.07 L191.92 49.38 L190.95 49.69 L189.99 49.98 L189.02 50.27 L188.05 50.56 L187.07 50.84 L186.10 51.11 L185.12 51.38 L184.14 51.65 L183.17 51.90 L182.20 52.16 L181.21 52.41 L180.22 52.65 L179.24 52.89 L178.26 53.12 L177.27 53.35 L176.27 53.58 L175.29 53.80 L174.30 54.02 L173.31 54.23 L173.02 54.29" stroke="#E0650D" stroke-width="1.55"/>
<path d="M335.53 150.99 L335.87 150.01 L336.21 149.04 L336.56 148.08 L336.90 147.14 L337.26 146.17 L337.62 145.22 L337.99 144.28 L338.37 143.32 L338.75 142.38 L339.14 141.45 L339.55 140.49 L339.95 139.56 L340.36 138.64 L340.79 137.70 L341.22 136.77 L341.65 135.86 L342.11 134.94 L342.56 134.03 L343.02 133.13 L343.50 132.22 L343.98 131.33 L344.46 130.45 L344.97 129.56 L345.48 128.69 L346.00 127.80 L346.54 126.93 L347.07 126.08 L347.63 125.21 L348.19 124.36 L348.76 123.53 L349.34 122.69 L349.94 121.87 L350.53 121.06 L351.15 120.24 L351.78 119.44 L352.41 118.66 L353.06 117.87 L353.72 117.10 L354.38 116.34 L355.07 115.58 L355.76 114.83 L356.46 114.10 L357.17 113.38 L357.90 112.66 L358.64 111.95 L359.38 111.26 L360.13 110.59 L360.89 109.93 L361.65 109.28 L362.44 108.63 L363.24 107.99 L364.04 107.37 L364.85 106.76 L365.67 106.16 L366.50 105.58 L367.33 105.00 L368.17 104.44 L369.01 103.90 L369.87 103.36 L370.73 102.83 L371.60 102.32 L372.47 101.82 L373.36 101.32 L374.25 100.84 L375.15 100.37 L376.06 99.91 L376.97 99.45 L377.89 99.01 L378.82 98.57 L379.73 98.16 L380.66 97.75 L381.58 97.35 L382.52 96.96 L383.46 96.58 L384.41 96.20 L385.37 95.84 L386.31 95.49 L387.26 95.14 L388.22 94.80 L389.18 94.47 L390.15 94.15 L391.11 93.84 L392.06 93.53 L393.03 93.23 L394.01 92.94 L394.99 92.65 L395.98 92.37 L396.94 92.10 L397.92 91.83 L398.90 91.57 L399.89 91.32 L400.89 91.07 L401.86 90.83 L402.84 90.59 L403.83 90.36 L404.83 90.13 L405.83 89.91 L406.81 89.69 L407.80 89.48 L408.79 89.28 L409.79 89.07 L410.80 88.87 L411.78 88.68 L412.77 88.50 L413.76 88.31 L414.76 88.13 L415.77 87.95 L415.99 87.91" stroke="#E0650D" stroke-width="1.55"/>
<path d="M266.56 -0.98 L266.33 0.00 L266.08 0.99 L265.84 1.97 L265.58 2.96 L265.32 3.94 L265.05 4.92 L264.78 5.89 L264.50 6.87 L264.21 7.83 L263.92 8.81 L263.62 9.76 L263.31 10.72 L262.99 11.69 L262.66 12.65 L262.32 13.60 L261.98 14.54 L261.63 15.49 L261.26 16.44 L260.89 17.37 L260.51 18.31 L260.11 19.24 L259.71 20.16 L259.30 21.08 L258.87 22.01 L258.43 22.91 L257.98 23.81 L257.52 24.72 L257.05 25.60 L256.56 26.48 L256.06 27.36 L255.55 28.23 L255.02 29.09 L254.47 29.95 L253.92 30.78 L253.35 31.62 L252.77 32.44 L252.17 33.25 L251.57 34.05 L250.94 34.84 L250.30 35.61 L249.65 36.38 L248.98 37.13 L248.30 37.88 L247.60 38.61 L246.89 39.32 L246.17 40.02 L245.43 40.71 L244.68 41.39 L243.91 42.05 L243.14 42.70 L242.35 43.33 L241.56 43.94 L240.75 44.55 L239.93 45.14 L239.09 45.71 L238.25 46.27 L237.40 46.82 L236.55 47.35 L235.68 47.86 L234.80 48.37 L233.93 48.86 L233.04 49.33 L232.14 49.80 L231.24 50.25 L230.33 50.69 L229.41 51.12 L228.50 51.54 L227.57 51.94 L226.65 52.33 L225.71 52.72 L224.78 53.09 L223.84 53.45 L222.89 53.80 L221.94 54.15 L220.98 54.48 L220.03 54.80 L219.07 55.12 L218.12 55.43 L217.15 55.73 L216.18 56.02 L215.21 56.31 L214.23 56.59 L213.26 56.86 L212.28 57.12 L211.31 57.38 L210.33 57.63 L209.34 57.87 L208.36 58.11 L207.37 58.34 L206.39 58.57 L205.41 58.79 L204.41 59.01 L203.42 59.22 L202.43 59.43 L201.44 59.63 L200.45 59.82 L199.45 60.02 L198.46 60.20 L197.47 60.39 L196.46 60.57 L195.47 60.74 L194.47 60.91 L193.46 61.08 L192.47 61.25 L191.47 61.41 L190.46 61.57 L189.46 61.72 L188.46 61.87 L187.45 62.02 L186.46 62.17 L185.46 62.31 L184.45 62.45 L183.45 62.58 L182.46 62.72 L181.45 62.85 L180.43 62.98 L179.44 63.10 L178.44 63.23 L177.43 63.35 L176.41 63.47 L175.41 63.58 L174.40 63.70 L173.39 63.81 L173.02 63.85" stroke="#EFC40C" stroke-width="1.6" stroke-dasharray="8.7 6.6" stroke-dashoffset="7.73"/>
<path d="M319.83 151.00 L320.06 150.01 L320.29 149.03 L320.53 148.02 L320.77 147.03 L321.01 146.06 L321.27 145.05 L321.52 144.07 L321.78 143.10 L322.05 142.11 L322.32 141.13 L322.61 140.14 L322.90 139.16 L323.19 138.20 L323.49 137.22 L323.79 136.25 L324.11 135.27 L324.43 134.31 L324.76 133.33 L325.10 132.37 L325.44 131.43 L325.79 130.47 L326.14 129.53 L326.51 128.59 L326.89 127.66 L327.28 126.72 L327.67 125.79 L328.07 124.86 L328.50 123.93 L328.92 123.01 L329.36 122.09 L329.81 121.18 L330.27 120.28 L330.74 119.39 L331.22 118.50 L331.73 117.60 L332.23 116.73 L332.76 115.85 L333.29 115.00 L333.84 114.15 L334.39 113.31 L334.96 112.48 L335.56 111.65 L336.16 110.84 L336.78 110.03 L337.41 109.24 L338.06 108.45 L338.71 107.69 L339.39 106.93 L340.07 106.18 L340.77 105.46 L341.48 104.74 L342.21 104.04 L342.96 103.35 L343.71 102.67 L344.48 102.02 L345.25 101.38 L346.04 100.75 L346.84 100.14 L347.66 99.54 L348.49 98.95 L349.33 98.38 L350.17 97.83 L351.03 97.29 L351.90 96.76 L352.77 96.25 L353.66 95.76 L354.55 95.27 L355.44 94.81 L356.34 94.36 L357.25 93.93 L358.16 93.50 L359.09 93.09 L360.03 92.68 L360.96 92.30 L361.89 91.92 L362.84 91.55 L363.78 91.20 L364.73 90.86 L365.68 90.53 L366.65 90.20 L367.60 89.89 L368.57 89.59 L369.54 89.29 L370.50 89.01 L371.48 88.73 L372.46 88.46 L373.42 88.21 L374.40 87.95 L375.39 87.71 L376.38 87.47 L377.36 87.24 L378.35 87.01 L379.35 86.79 L380.34 86.58 L381.33 86.37 L382.33 86.17 L383.31 85.98 L384.31 85.79 L385.31 85.60 L386.30 85.43 L387.29 85.25 L388.29 85.08 L389.30 84.92 L390.29 84.76 L391.29 84.60 L392.30 84.45 L393.29 84.30 L394.29 84.16 L395.29 84.01 L396.31 83.88 L397.30 83.74 L398.30 83.61 L399.31 83.49 L400.32 83.36 L401.31 83.24 L402.32 83.12 L403.32 83.01 L404.34 82.89 L405.36 82.78 L406.36 82.67 L407.37 82.57 L408.39 82.46 L409.41 82.36 L410.41 82.26 L411.41 82.17 L412.42 82.08 L413.44 81.98 L414.47 81.89 L415.47 81.80 L415.97 81.76" stroke="#EFC40C" stroke-width="1.6" stroke-dasharray="8.7 6.6" stroke-dashoffset="14.32"/>
<path d="M278.08 -0.99 L277.96 0.02 L277.84 1.02 L277.71 2.03 L277.58 3.02 L277.45 4.03 L277.31 5.05 L277.17 6.05 L277.02 7.06 L276.87 8.05 L276.72 9.06 L276.56 10.07 L276.39 11.06 L276.22 12.06 L276.05 13.07 L275.87 14.06 L275.69 15.05 L275.49 16.05 L275.30 17.05 L275.09 18.03 L274.88 19.02 L274.67 20.00 L274.44 20.99 L274.21 21.98 L273.97 22.96 L273.72 23.94 L273.46 24.92 L273.19 25.90 L272.91 26.87 L272.62 27.84 L272.32 28.80 L272.01 29.76 L271.69 30.71 L271.36 31.67 L271.01 32.62 L270.64 33.56 L270.27 34.49 L269.88 35.43 L269.47 36.36 L269.05 37.27 L268.61 38.17 L268.15 39.07 L267.68 39.96 L267.19 40.84 L266.68 41.70 L266.15 42.56 L265.60 43.40 L265.03 44.23 L264.44 45.05 L263.82 45.85 L263.19 46.63 L262.54 47.40 L261.87 48.15 L261.18 48.88 L260.47 49.58 L259.74 50.28 L258.99 50.95 L258.23 51.60 L257.45 52.23 L256.65 52.84 L255.83 53.43 L255.00 54.00 L254.16 54.55 L253.31 55.08 L252.44 55.59 L251.56 56.08 L250.68 56.55 L249.78 57.01 L248.87 57.45 L247.96 57.87 L247.04 58.28 L246.11 58.66 L245.18 59.04 L244.24 59.40 L243.29 59.75 L242.33 60.09 L241.38 60.41 L240.42 60.72 L239.46 61.02 L238.50 61.30 L237.54 61.58 L236.56 61.85 L235.58 62.11 L234.61 62.36 L233.63 62.60 L232.66 62.83 L231.67 63.06 L230.68 63.28 L229.70 63.49 L228.71 63.69 L227.72 63.89 L226.73 64.08 L225.74 64.26 L224.74 64.44 L223.75 64.62 L222.76 64.78 L221.76 64.95 L220.76 65.11 L219.77 65.26 L218.77 65.41 L217.78 65.56 L216.77 65.70 L215.78 65.84 L214.77 65.97 L213.77 66.10 L212.76 66.23 L211.76 66.35 L210.75 66.47 L209.74 66.59 L208.73 66.71 L207.73 66.82 L206.72 66.93 L205.72 67.03 L204.71 67.14 L203.71 67.24 L202.71 67.34 L201.69 67.43 L200.69 67.53 L199.67 67.62 L198.67 67.71 L197.66 67.80 L196.65 67.89 L195.64 67.97 L194.63 68.05 L193.61 68.13 L192.61 68.21 L191.59 68.29 L190.60 68.37 L189.59 68.44 L188.58 68.51 L187.55 68.58 L186.55 68.65 L185.54 68.72 L184.52 68.79 L183.51 68.86 L182.50 68.92 L181.48 68.98 L180.48 69.05 L179.48 69.11 L178.46 69.17 L177.44 69.23 L176.44 69.28 L175.43 69.34 L174.41 69.40 L173.39 69.45 L173.02 69.47" stroke="#A3C6EA" stroke-width="1.55" stroke-dasharray="11 1.9 2.2 1.9" stroke-dashoffset="2.86"/>
<path d="M308.09 150.96 L308.24 149.94 L308.38 148.93 L308.54 147.94 L308.69 146.93 L308.85 145.93 L309.02 144.90 L309.19 143.90 L309.36 142.91 L309.53 141.90 L309.71 140.90 L309.90 139.89 L310.09 138.89 L310.28 137.88 L310.48 136.89 L310.69 135.88 L310.90 134.89 L311.12 133.88 L311.34 132.90 L311.56 131.90 L311.80 130.92 L312.04 129.93 L312.29 128.94 L312.54 127.96 L312.80 126.97 L313.07 125.98 L313.35 125.01 L313.64 124.04 L313.93 123.06 L314.23 122.11 L314.55 121.15 L314.87 120.19 L315.20 119.23 L315.55 118.27 L315.91 117.31 L316.28 116.38 L316.65 115.45 L317.04 114.52 L317.45 113.60 L317.87 112.68 L318.30 111.77 L318.75 110.87 L319.21 109.97 L319.69 109.08 L320.18 108.21 L320.70 107.34 L321.22 106.48 L321.77 105.63 L322.34 104.80 L322.92 103.97 L323.52 103.16 L324.15 102.36 L324.79 101.58 L325.44 100.82 L326.12 100.07 L326.82 99.34 L327.52 98.63 L328.26 97.93 L329.00 97.26 L329.77 96.60 L330.55 95.97 L331.34 95.35 L332.15 94.76 L332.96 94.18 L333.80 93.63 L334.64 93.09 L335.50 92.57 L336.37 92.07 L337.26 91.59 L338.16 91.12 L339.06 90.68 L339.98 90.24 L340.89 89.83 L341.82 89.43 L342.74 89.06 L343.68 88.69 L344.62 88.34 L345.57 88.00 L346.52 87.67 L347.48 87.36 L348.44 87.06 L349.41 86.76 L350.38 86.49 L351.36 86.22 L352.34 85.96 L353.31 85.71 L354.29 85.47 L355.27 85.24 L356.26 85.01 L357.25 84.80 L358.24 84.59 L359.23 84.39 L360.23 84.20 L361.23 84.01 L362.21 83.83 L363.21 83.66 L364.19 83.49 L365.19 83.33 L366.18 83.17 L367.18 83.02 L368.19 82.87 L369.19 82.73 L370.19 82.59 L371.19 82.46 L372.20 82.33 L373.20 82.20 L374.20 82.08 L375.22 81.96 L376.22 81.85 L377.23 81.73 L378.23 81.63 L379.24 81.52 L380.26 81.42 L381.26 81.32 L382.27 81.22 L383.27 81.13 L384.27 81.04 L385.29 80.95 L386.28 80.86 L387.29 80.78 L388.30 80.69 L389.30 80.61 L390.31 80.54 L391.32 80.46 L392.35 80.38 L393.35 80.31 L394.36 80.24 L395.38 80.17 L396.38 80.10 L397.39 80.04 L398.41 79.97 L399.43 79.91 L400.44 79.85 L401.45 79.79 L402.47 79.73 L403.47 79.68 L404.48 79.62 L405.49 79.56 L406.51 79.51 L407.54 79.46 L408.54 79.41 L409.55 79.36 L410.57 79.31 L411.60 79.26 L412.60 79.21 L413.61 79.17 L414.63 79.12 L415.65 79.08 L415.99 79.06" stroke="#A3C6EA" stroke-width="1.55" stroke-dasharray="11 1.9 2.2 1.9" stroke-dashoffset="16.54"/>
<path d="M288.56 -1.00 L288.50 0.04 L288.45 1.05 L288.39 2.05 L288.33 3.07 L288.27 4.07 L288.21 5.08 L288.15 6.08 L288.08 7.10 L288.01 8.13 L287.94 9.14 L287.87 10.16 L287.80 11.17 L287.72 12.18 L287.64 13.21 L287.56 14.22 L287.47 15.23 L287.38 16.25 L287.29 17.25 L287.20 18.26 L287.10 19.27 L287.00 20.28 L286.89 21.30 L286.79 22.30 L286.68 23.29 L286.56 24.29 L286.44 25.29 L286.32 26.28 L286.18 27.27 L286.05 28.28 L285.90 29.29 L285.75 30.29 L285.60 31.28 L285.44 32.29 L285.27 33.28 L285.09 34.27 L284.90 35.26 L284.71 36.25 L284.50 37.24 L284.29 38.22 L284.06 39.21 L283.82 40.19 L283.56 41.17 L283.30 42.15 L283.02 43.11 L282.72 44.07 L282.41 45.02 L282.08 45.98 L281.73 46.91 L281.36 47.85 L280.96 48.77 L280.55 49.68 L280.10 50.59 L279.64 51.48 L279.14 52.35 L278.62 53.20 L278.06 54.04 L277.48 54.86 L276.87 55.66 L276.22 56.43 L275.54 57.17 L274.84 57.89 L274.11 58.58 L273.35 59.23 L272.57 59.86 L271.76 60.46 L270.93 61.03 L270.08 61.57 L269.21 62.08 L268.33 62.56 L267.43 63.01 L266.53 63.44 L265.60 63.85 L264.67 64.23 L263.74 64.59 L262.79 64.93 L261.84 65.26 L260.88 65.56 L259.91 65.85 L258.95 66.12 L257.97 66.38 L256.99 66.63 L256.02 66.86 L255.03 67.09 L254.05 67.30 L253.06 67.50 L252.07 67.69 L251.08 67.88 L250.10 68.05 L249.11 68.22 L248.11 68.38 L247.11 68.53 L246.12 68.68 L245.13 68.82 L244.14 68.96 L243.14 69.09 L242.14 69.21 L241.14 69.33 L240.14 69.45 L239.14 69.56 L238.15 69.67 L237.15 69.77 L236.14 69.87 L235.13 69.97 L234.12 70.07 L233.12 70.16 L232.12 70.24 L231.10 70.33 L230.09 70.41 L229.09 70.49 L228.09 70.57 L227.08 70.64 L226.07 70.72 L225.07 70.79 L224.06 70.85 L223.06 70.92 L222.04 70.99 L221.04 71.05 L220.04 71.11 L219.03 71.17 L218.03 71.23 L217.01 71.28 L216.01 71.34 L215.00 71.39 L214.00 71.44 L212.99 71.50 L211.99 71.54 L210.98 71.59 L209.96 71.64 L208.95 71.69 L207.93 71.73 L206.92 71.78 L205.91 71.82 L204.91 71.86 L203.90 71.90 L202.88 71.94 L201.88 71.98 L200.86 72.02 L199.84 72.06 L198.83 72.10 L197.82 72.13 L196.82 72.17 L195.81 72.20 L194.79 72.24 L193.77 72.27 L192.76 72.30 L191.74 72.33 L190.72 72.36 L189.71 72.40 L188.70 72.43 L187.68 72.46 L186.68 72.48 L185.67 72.51 L184.65 72.54 L183.62 72.57 L182.62 72.59 L181.61 72.62 L180.58 72.65 L179.56 72.67 L178.55 72.70 L177.54 72.72 L176.52 72.75 L175.49 72.77 L174.48 72.79 L173.47 72.82 L173.02 72.83" stroke="#404EA6" stroke-width="1.4" stroke-dasharray="2.6 2.44" stroke-dashoffset="4.35"/>
<path d="M299.69 150.96 L299.75 149.95 L299.82 148.95 L299.88 147.92 L299.95 146.90 L300.02 145.86 L300.10 144.84 L300.17 143.84 L300.24 142.81 L300.32 141.80 L300.40 140.76 L300.48 139.75 L300.56 138.75 L300.65 137.73 L300.74 136.74 L300.83 135.72 L300.92 134.72 L301.02 133.71 L301.12 132.69 L301.22 131.68 L301.32 130.66 L301.43 129.67 L301.54 128.66 L301.66 127.64 L301.78 126.65 L301.90 125.65 L302.03 124.64 L302.16 123.63 L302.30 122.61 L302.44 121.62 L302.59 120.63 L302.74 119.64 L302.90 118.64 L303.06 117.65 L303.23 116.66 L303.41 115.68 L303.59 114.68 L303.79 113.69 L303.99 112.70 L304.20 111.70 L304.43 110.72 L304.66 109.74 L304.90 108.76 L305.16 107.78 L305.42 106.82 L305.70 105.85 L306.00 104.89 L306.31 103.93 L306.64 102.98 L306.99 102.03 L307.35 101.10 L307.74 100.16 L308.14 99.24 L308.57 98.34 L309.03 97.44 L309.51 96.56 L310.02 95.69 L310.55 94.84 L311.12 94.01 L311.72 93.19 L312.34 92.40 L313.00 91.64 L313.69 90.91 L314.40 90.20 L315.15 89.52 L315.92 88.87 L316.72 88.26 L317.54 87.68 L318.38 87.13 L319.24 86.60 L320.12 86.11 L321.01 85.65 L321.92 85.22 L322.84 84.81 L323.77 84.43 L324.70 84.07 L325.65 83.73 L326.60 83.41 L327.57 83.11 L328.53 82.83 L329.50 82.57 L330.47 82.32 L331.45 82.08 L332.44 81.86 L333.42 81.65 L334.41 81.45 L335.40 81.26 L336.39 81.09 L337.38 80.92 L338.38 80.76 L339.38 80.60 L340.37 80.46 L341.37 80.32 L342.36 80.19 L343.36 80.06 L344.36 79.94 L345.35 79.83 L346.35 79.72 L347.35 79.62 L348.35 79.52 L349.36 79.42 L350.36 79.33 L351.37 79.24 L352.37 79.15 L353.37 79.07 L354.39 78.99 L355.40 78.92 L356.40 78.84 L357.40 78.77 L358.41 78.71 L359.42 78.64 L360.42 78.58 L361.43 78.52 L362.43 78.46 L363.45 78.40 L364.46 78.35 L365.45 78.29 L366.47 78.24 L367.47 78.19 L368.48 78.15 L369.48 78.10 L370.49 78.05 L371.50 78.01 L372.51 77.97 L373.51 77.93 L374.52 77.89 L375.52 77.85 L376.53 77.81 L377.55 77.77 L378.56 77.74 L379.57 77.70 L380.57 77.67 L381.58 77.64 L382.60 77.60 L383.61 77.57 L384.63 77.54 L385.63 77.51 L386.63 77.48 L387.65 77.46 L388.65 77.43 L389.66 77.40 L390.68 77.38 L391.68 77.35 L392.69 77.33 L393.71 77.30 L394.73 77.28 L395.74 77.25 L396.75 77.23 L397.78 77.21 L398.78 77.19 L399.79 77.17 L400.81 77.15 L401.84 77.12 L402.85 77.11 L403.86 77.09 L404.88 77.07 L405.88 77.05 L406.89 77.03 L407.91 77.01 L408.93 76.99 L409.93 76.98 L410.94 76.96 L411.95 76.95 L412.97 76.93 L414.00 76.91 L415.01 76.90 L415.99 76.88" stroke="#404EA6" stroke-width="1.4" stroke-dasharray="2.6 2.44" stroke-dashoffset="1.64"/>
</g>
<g stroke="#1a1a1a" stroke-width="1.1" fill="none">
<path d="M173.6 0V150.2H415"/><path d="M173.6 75.5H415"/><path d="M294.4 0V150.2"/>
</g><g stroke="#1a1a1a" stroke-width="0.8" fill="none">
<path d="M204.4 75.5v-3"/>
<path d="M264.4 75.5v-3"/>
<path d="M324.4 75.5v-3"/>
<path d="M384.4 75.5v-3"/>
<path d="M294.4 131.8h3"/>
<path d="M294.4 94.3h3"/>
<path d="M294.4 56.8h3"/>
<path d="M294.4 19.3h3"/>
</g>
<g font-size="13">
<text x="217.1" y="87.2" text-anchor="end">150</text><path d="M189.4 83.3H197.0" stroke="#111" stroke-width="0.85"/>
<text x="274.2" y="87.2" text-anchor="end">50</text><path d="M253.6 83.3H261.0" stroke="#111" stroke-width="0.85"/>
<text x="325.2" y="70.8" text-anchor="middle">50</text>
<text x="384.8" y="70.8" text-anchor="middle">150</text>
<text x="299.3" y="24" >0.3</text>
<text x="299.3" y="61" >0.1</text>
<text x="291.8" y="99.3" text-anchor="end">0.1</text><path d="M268.4 95.4H275.8" stroke="#111" stroke-width="0.85"/>
<text x="292.2" y="136.2" text-anchor="end">0.3</text><path d="M267.4 132.3H274.6" stroke="#111" stroke-width="0.85"/>
</g>
<text transform="translate(364.4,117) scale(1.16,1)" font-size="12.2">Δ</text><text transform="translate(374.0,117) scale(1.22,1)" font-size="12.2" font-style="italic">B</text><text x="387.8" y="117" font-size="12.2" textLength="25.6" lengthAdjust="spacingAndGlyphs">(mT)</text>
<text transform="translate(203.6,10.8) scale(1.3,1)" font-size="13" font-style="italic">I</text><text transform="translate(209.9,12.7) scale(1.42,1)" font-size="9" font-style="italic">B</text><text transform="translate(218.9,12.7) scale(1.5,1)" font-size="9" font-style="italic">S</text>
<path d="M202.3 13.9H227.9" stroke="#111" stroke-width="0.75"/>
<path d="M206.3 15.6V27.5M224.4 15.6V27.5" stroke="#111" stroke-width="0.75"/>
<text transform="translate(209.6,24.4) scale(1.3,1)" font-size="12.2" font-style="italic">I</text><text transform="translate(215.8,27.1) scale(1.15,1)" font-size="9.2">0</text>
<rect x="0" y="0" width="415" height="1.2" fill="#000"/>
<rect x="0.72" y="0" width="1.28" height="241" fill="#000"/>
<rect x="0" y="239.7" width="415" height="1.3" fill="#000"/>
<rect x="414" y="0" width="1" height="241" fill="#8c8c8c"/>
</svg></body></html>
